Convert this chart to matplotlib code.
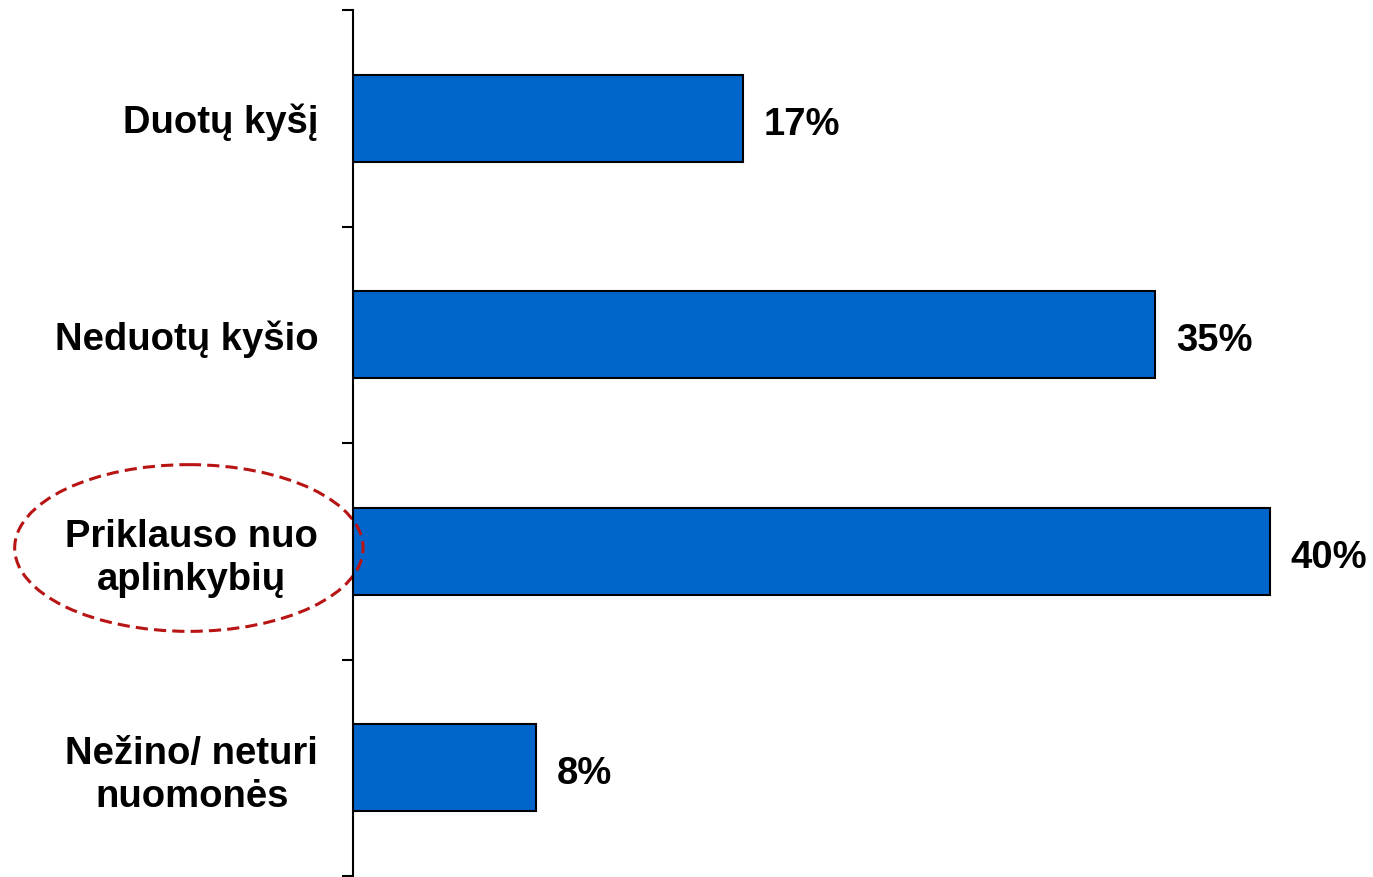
import matplotlib
matplotlib.use("Agg")
import matplotlib.pyplot as plt
from matplotlib.patches import Ellipse
import numpy as np

categories = ["Duotų kyšį", "Neduotų kyšio", "Priklauso nuo\naplinkybių", "Nežino/ neturi\nnuomonės"]
values = [17, 35, 40, 8]
highlight = 2  # circled answer

plt.rcParams['font.family'] = ['Liberation Sans', 'DejaVu Sans']
plt.rcParams['font.weight'] = 'bold'
FS = 27.5

fig = plt.figure(figsize=(13.73, 8.77), dpi=100)
ax = fig.add_axes([353 / 1373, 1 - 876 / 877, 1 - 353 / 1373, 866 / 877])

y = np.arange(len(categories))
ax.barh(y, values, height=0.4, color='#0066CC', edgecolor='black', linewidth=1.5)

for yi, v in zip(y, values):
    ax.annotate(f"{v}%", xy=(v, yi), xytext=(15, -12), textcoords='offset points',
                va='baseline', ha='left', fontsize=FS, fontweight='bold')

ax.set_xlim(0, 44.5)
ax.set_ylim(len(categories) - 0.5, -0.5)

ax.set_yticks(y)
ax.set_yticklabels(categories, fontsize=FS, fontweight='bold', linespacing=1.25)
for lab in ax.get_yticklabels():
    lab.set_multialignment('center')
ax.tick_params(axis='y', which='major', length=0, pad=25)
ax.set_yticks(np.arange(-0.5, len(categories)), minor=True)
ax.tick_params(axis='y', which='minor', length=8, width=1.5, direction='out')

ax.xaxis.set_visible(False)
for s in ['top', 'right', 'bottom']:
    ax.spines[s].set_visible(False)
ax.spines['left'].set_linewidth(1.5)

# dashed ellipse around the highlighted label
ell = Ellipse((-7.16, highlight - 0.015), width=15.2, height=0.77, fill=False,
              edgecolor='#B81414', linewidth=2.2, linestyle=(0, (4, 2)), clip_on=False)
ax.add_patch(ell)

fig.savefig("out.png", dpi=100)
